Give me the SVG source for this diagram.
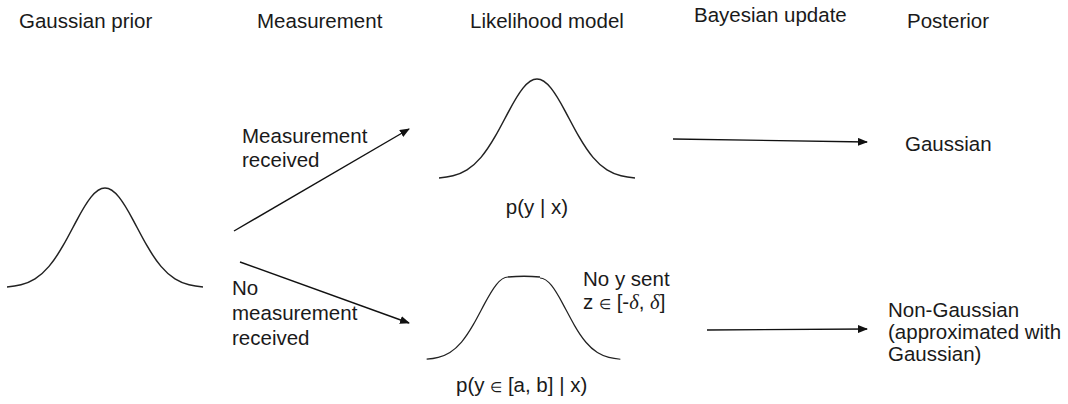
<svg xmlns="http://www.w3.org/2000/svg" width="1068" height="404" viewBox="0 0 1068 404">
<style>
text{font-family:"Liberation Sans",Arial,sans-serif;font-size:20.5px;fill:#1a1a1a}
.curve{fill:none;stroke:#222;stroke-width:1.5;stroke-linejoin:round}
.conn{stroke:#111;stroke-width:1.4;fill:none;marker-end:url(#ah)}
.sm{font-size:14px}
.gr{font-family:"Liberation Serif","Times New Roman",serif;font-style:italic}
</style>
<defs>
<marker id="ah" viewBox="0 0 10 8" refX="9" refY="4" markerWidth="10" markerHeight="8" markerUnits="userSpaceOnUse" orient="auto">
<path d="M0,0 L10,4 L0,8 z" fill="#111"/>
</marker>
<path id="halfL" d="M-98,-0.92 C-93.33,-1.33 -88.67,-1.97 -84,-3.19 C-79.33,-4.41 -74.67,-6.22 -70,-9.14 C-65.33,-12.06 -60.67,-16.11 -56,-21.63 C-51.33,-27.15 -46.67,-34.17 -42,-42.26 C-37.33,-50.35 -32.67,-59.49 -28,-68.19 C-23.33,-76.89 -18.67,-85.07 -14,-90.87 C-9.33,-96.67 -4.67,-100 0,-100"/>
<path id="halfR" d="M0,-100 C4.67,-100 9.33,-96.67 14,-90.87 C18.67,-85.07 23.33,-76.89 28,-68.19 C32.67,-59.49 37.33,-50.35 42,-42.26 C46.67,-34.17 51.33,-27.15 56,-21.63 C60.67,-16.11 65.33,-12.06 70,-9.14 C74.67,-6.22 79.33,-4.41 84,-3.19 C88.67,-1.97 93.33,-1.33 98,-0.92"/>
</defs>
<rect width="1068" height="404" fill="#fff"/>

<g id="headers">
<text x="19" y="28">Gaussian prior</text>
<text x="257" y="28">Measurement</text>
<text x="470" y="28">Likelihood model</text>
<text x="694" y="22">Bayesian update</text>
<text x="907" y="28">Posterior</text>
</g>

<g id="prior">
<g class="curve" transform="translate(105,288)"><use href="#halfL"/><use href="#halfR"/></g>
</g>

<g id="likelihood-received">
<g class="curve" transform="translate(537,179)"><use href="#halfL"/><use href="#halfR"/></g>
<text x="537" y="214" text-anchor="middle">p(y | x)</text>
</g>

<g id="likelihood-none">
<g class="curve">
<use href="#halfL" transform="translate(508,360) scale(0.83)"/>
<path d="M508,277 C518,276 530,276 540,277"/>
<use href="#halfR" transform="translate(540,360) scale(0.82)"/>
</g>
<text x="456" y="392">p(y <tspan class="sm">∈</tspan> [a, b] | x)</text>
<text x="583" y="286">No y sent</text>
<text x="583" y="309">z <tspan class="sm">∈</tspan> [-<tspan class="gr">δ</tspan>, <tspan class="gr">δ</tspan>]</text>
</g>

<g id="posterior-gaussian">
<text x="905" y="151">Gaussian</text>
</g>

<g id="posterior-nongaussian">
<text x="888" y="317">Non-Gaussian</text>
<text x="888" y="339">(approximated with</text>
<text x="888" y="361">Gaussian)</text>
</g>

<g id="connectors">
<line class="conn" x1="234" y1="231" x2="409" y2="129"/>
<line class="conn" x1="240" y1="262" x2="409" y2="323"/>
<line class="conn" x1="673" y1="139" x2="867" y2="142"/>
<line class="conn" x1="707" y1="330" x2="867" y2="329"/>
<text x="242" y="143">Measurement</text>
<text x="242" y="167">received</text>
<text x="232" y="295">No</text>
<text x="232" y="320">measurement</text>
<text x="232" y="345">received</text>
</g>
</svg>
